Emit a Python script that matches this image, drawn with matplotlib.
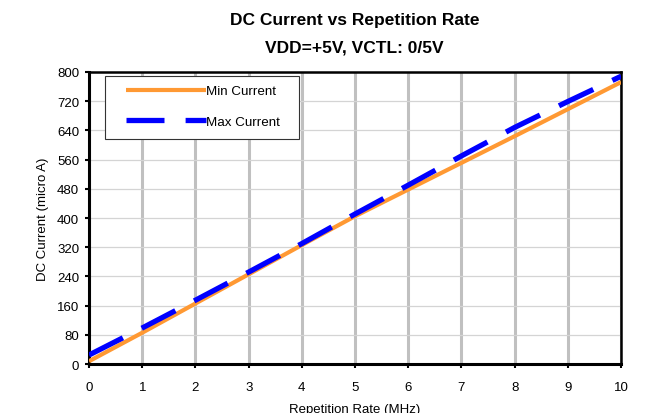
import matplotlib
matplotlib.use("Agg")
import matplotlib.pyplot as plt
from matplotlib.patches import Rectangle

rate_mhz = [0, 1, 2, 3, 4, 5, 6, 7, 8, 9, 10]
min_current = [8, 86, 166, 246, 326, 405, 478, 551, 624, 698, 772]
max_current = [25, 99, 175, 252, 330, 411, 490, 570, 648, 719, 788]
yticks = [0, 80, 160, 240, 320, 400, 480, 560, 640, 720, 800]

plt.rcParams['font.family'] = ['Liberation Sans', 'DejaVu Sans']

fig = plt.figure(figsize=(6.47, 4.14), dpi=100)
ax = fig.add_axes([0.1376, 0.118, 0.8224, 0.706])

ax.plot(rate_mhz, min_current, color='#ff9933', lw=3.0, label='Min Current', zorder=3, solid_capstyle='butt')
ax.plot(rate_mhz, max_current, color='#0000ff', lw=3.8, dashes=(7.2, 4.0), label='Max Current', zorder=4)

ax.set_xlim(0, 10)
ax.set_ylim(0, 800)
ax.set_xticks(rate_mhz)
ax.set_yticks(yticks)
ax.tick_params(labelsize=9.5, length=3, width=1.5, direction='out')
ax.tick_params(axis='x', pad=9)
ax.tick_params(axis='y', pad=4)
ax.xaxis.grid(True, color='#c0c0c0', lw=2.2)
ax.yaxis.grid(True, color='#d4d4d4', lw=0.9)
ax.set_axisbelow(True)
for s in ['left', 'bottom']:
    ax.spines[s].set_linewidth(2.2)
for s in ['top', 'right']:
    ax.spines[s].set_linewidth(1.8)

ax.set_xlabel('Repetition Rate (MHz)', fontsize=9.5, labelpad=7)
ax.set_ylabel('DC Current (micro A)', fontsize=9.5, labelpad=6)

fig.text(0.548, 0.950, 'DC Current vs Repetition Rate', ha='center', va='center', fontsize=12.5, fontweight='bold')
fig.text(0.548, 0.885, 'VDD=+5V, VCTL: 0/5V', ha='center', va='center', fontsize=12.5, fontweight='bold')

# legend frame
ax.add_patch(Rectangle((0.030, 0.771), 0.365, 0.215, transform=ax.transAxes, facecolor='white',
                       edgecolor='#333333', lw=0.8, zorder=5))
leg = ax.legend(loc='center left', bbox_to_anchor=(0.0695, 0.882), fontsize=9.6, frameon=False,
                handlelength=6.0, handletextpad=0.0, labelspacing=1.35,
                borderpad=0, borderaxespad=0)
leg.set_zorder(6)

fig.savefig('out.png', dpi=100)
